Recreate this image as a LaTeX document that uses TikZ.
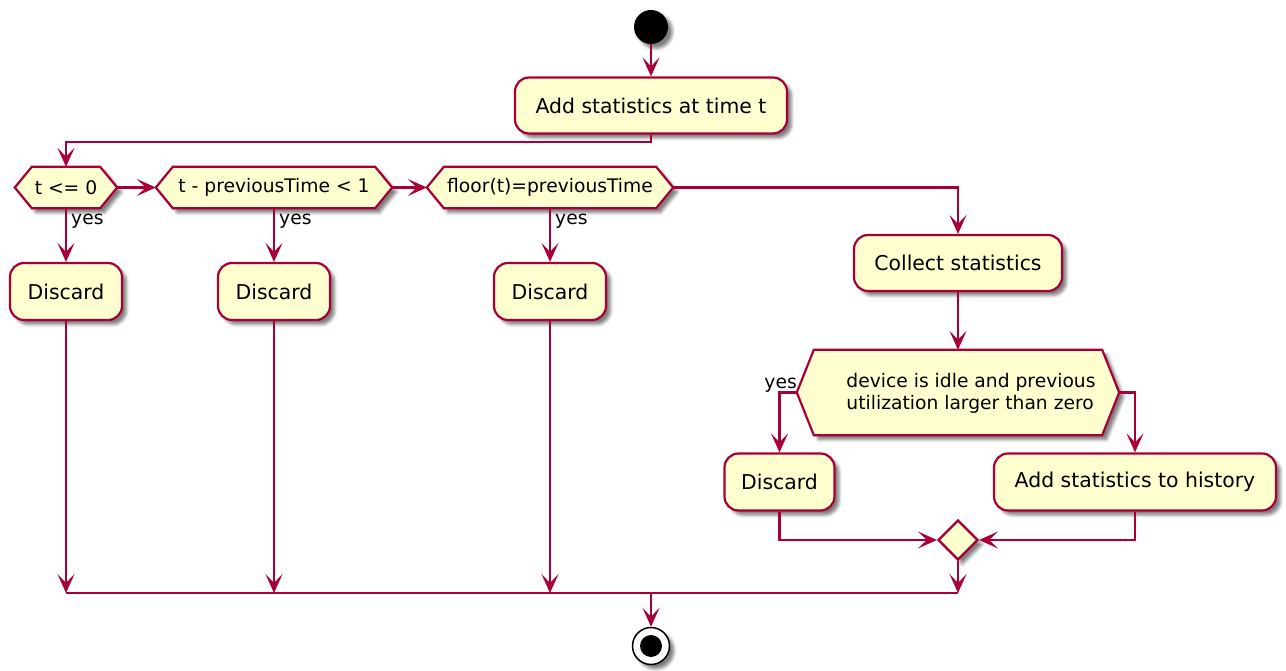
\documentclass[tikz,border=0pt]{standalone}
\usepackage{fontspec}
\setmainfont{DejaVu Sans}
\usetikzlibrary{arrows.meta,shapes.geometric,shadows.blur}

\definecolor{puborder}{HTML}{A80036}
\definecolor{pufill}{HTML}{FEFECE}
\newcommand\actsize{\fontsize{20.4}{24}\selectfont}
\newcommand\decsize{\fontsize{18.7}{21.5}\selectfont}

% hexagonal frame around a decision node: #1 node name, #2 tip inset
\newcommand\hexframe[2]{%
  \path[hexbox] ([xshift=#2]#1.north west) -- ([xshift=-#2]#1.north east)
    -- (#1.east) -- ([xshift=-#2]#1.south east)
    -- ([xshift=#2]#1.south west) -- (#1.west) -- cycle;}

\tikzset{
  softshadow/.style={blur shadow={shadow xshift=4.5pt, shadow yshift=-4.5pt,
      shadow blur radius=3pt, shadow opacity=50}},
  activity/.style={draw=puborder, fill=pufill, line width=2.2pt,
      rounded corners=14pt, minimum height=56pt, inner sep=0pt,
      font=\actsize, softshadow},
  decision/.style={minimum height=41pt, inner sep=0pt},
  hexbox/.style={draw=puborder, fill=pufill, line width=2.2pt,
      line join=miter, softshadow},
  flow/.style={draw=puborder, line width=2.2pt,
      -{Stealth[length=19pt, width=17pt, inset=9pt]}},
  link/.style={draw=puborder, line width=2.2pt},
  guard/.style={font=\decsize, inner sep=0pt},
}

\begin{document}
\begin{tikzpicture}[x=1pt, y=-1pt]
\useasboundingbox (0,0) rectangle (1286,671);

% start / stop
\node[circle, fill=black, minimum size=34pt, inner sep=0pt, softshadow] (start) at (651,27) {};
\node[circle, draw=black, fill=white, line width=1.5pt, minimum size=37pt,
      inner sep=0pt, softshadow] (stop) at (651,646) {};
\node[circle, fill=black, minimum size=22pt, inner sep=0pt] (stopdot) at (stop) {};

% activities
\node[activity, minimum width=272pt] (add) at (651,105.5) {Add statistics at time t};
\node[activity, minimum width=112pt, minimum height=57pt] (dis1) at (66,291.5) {Discard};
\node[activity, minimum width=112pt, minimum height=57pt] (dis2) at (274,291.5) {Discard};
\node[activity, minimum width=112pt, minimum height=57pt] (dis3) at (550,291.5) {Discard};
\node[activity, minimum width=208pt] (collect) at (958,263) {Collect statistics};
\node[activity, minimum width=110pt, minimum height=57pt] (dis4) at (779.5,482) {Discard};
\node[activity, minimum width=282pt, minimum height=57pt] (hist) at (1135,482) {Add statistics to history};

% decision outlines, then their texts on top
\node[decision, minimum width=102pt] (d1) at (66,187.5) {};
\node[decision, minimum width=236pt] (d2) at (274,187.5) {};
\node[decision, minimum width=246pt] (d3) at (550,187.5) {};
\node[decision, minimum width=322pt, minimum height=85pt] (d4) at (958,392.5) {};
\hexframe{d1}{17pt}
\hexframe{d2}{17pt}
\hexframe{d3}{17pt}
\hexframe{d4}{17pt}
\node[guard] (d1txt) at (d1) {t <= 0};
\node[guard] (d2txt) at (d2) {t - previousTime < 1};
\node[guard] (d3txt) at (d3) {floor(t)=previousTime};
\node[guard, align=left] (d4txt) at (971,393.5) {device is idle and previous\\utilization larger than zero};

% merge point
\node[diamond, draw=puborder, fill=pufill, line width=2.2pt, minimum width=40pt,
      minimum height=40pt, inner sep=0pt, softshadow] (merge) at (958,540) {};

% junction rows
\coordinate (fork) at (651,142);
\coordinate (join) at (651,593);

% connectors
\draw[flow] (start) -- (add);
\draw[flow] (add.south) |- (d1.north |- fork) -- (d1.north);
\draw[flow] (d1.east) -- (d2.west);
\draw[flow] (d2.east) -- (d3.west);
\draw[flow] (d3.east) -| (collect.north);
\draw[flow] (d1.south) -- (dis1.north);
\draw[flow] (d2.south) -- (dis2.north);
\draw[flow] (d3.south) -- (dis3.north);
\draw[flow] (collect.south) -- (d4.north);
\draw[flow] (d4.west) -| (dis4.north);
\draw[flow] (d4.east) -| (hist.north);
\draw[flow] (dis4.south) |- (merge.west);
\draw[flow] (hist.south) |- (merge.east);
\draw[flow] (merge.south) -- (merge.south |- join);
\draw[flow] (dis1.south) -- (dis1.south |- join);
\draw[flow] (dis2.south) -- (dis2.south |- join);
\draw[flow] (dis3.south) -- (dis3.south |- join);
\draw[link] (dis1.south |- join) -- (merge.south |- join);
\draw[flow] (join) -- (stop.north);

% guard labels
\node[guard, anchor=base west] (y1) at (71,225) {yes};
\node[guard, anchor=base west] (y2) at (279,225) {yes};
\node[guard, anchor=base west] (y3) at (555,225) {yes};
\node[guard, anchor=base east] (y4) at (797,388) {yes};
\end{tikzpicture}
\end{document}
